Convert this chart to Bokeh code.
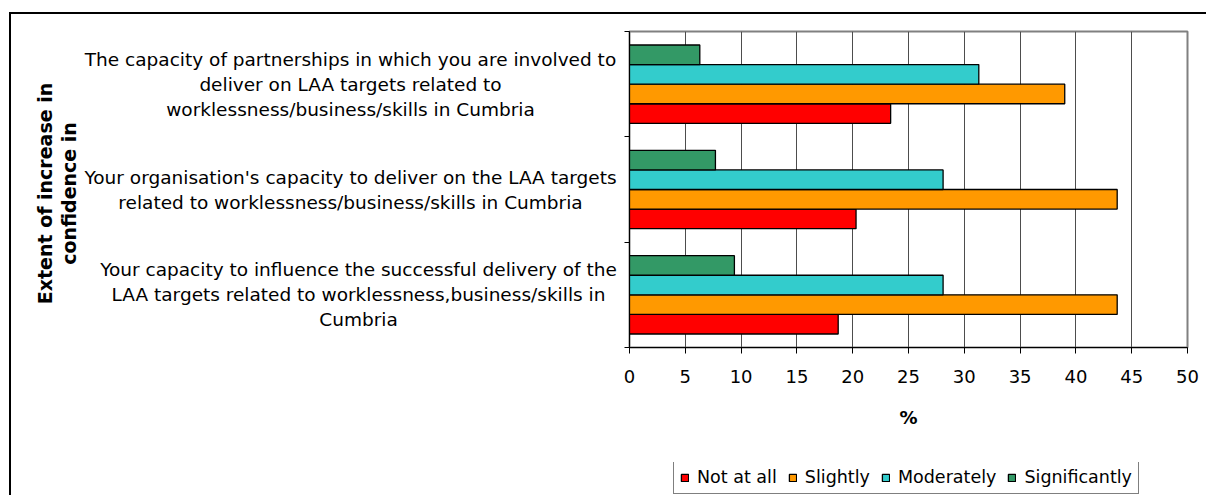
from math import pi
from bokeh.plotting import figure
from bokeh.layouts import row, column
from bokeh.models import Range1d, FixedTicker, Legend, LegendItem
from bokeh.core.properties import value
from bokeh.embed import file_html
from bokeh.resources import INLINE

# ---------------- data ----------------
categories = [
    "The capacity of partnerships in which you are involved to\ndeliver on LAA targets related to\nworklessness/business/skills in Cumbria",
    "Your organisation's capacity to deliver on the LAA targets\nrelated to worklessness/business/skills in Cumbria",
    "Your capacity to influence the successful delivery of the\nLAA targets related to worklessness,business/skills in\nCumbria",
]
series = ["Not at all", "Slightly", "Moderately", "Significantly"]
not_at_all = [23.4, 20.3, 18.7]
slightly = [39.0, 43.7, 43.7]
moderately = [31.3, 28.1, 28.1]
significantly = [6.3, 7.7, 9.4]
x_ticks = [0, 5, 10, 15, 20, 25, 30, 35, 40, 45, 50]
x_title = "%"
y_title = ["Extent of increase in", "confidence in"]

values = {"Not at all": not_at_all, "Slightly": slightly,
          "Moderately": moderately, "Significantly": significantly}
colors = {"Not at all": "#FF0000", "Slightly": "#FF9900",
          "Moderately": "#33CCCC", "Significantly": "#339966"}
offsets = {"Not at all": -0.279, "Slightly": -0.093,
           "Moderately": 0.093, "Significantly": 0.279}
BAR_H = 0.186
FONT = "DejaVu Sans"
W, H = 1206, 495
LEFT_W = 620
LEG_H = 33
TOP_H = H - LEG_H

n_cat = len(categories)
centers = [n_cat - i - 0.5 for i in range(n_cat)]
yr = Range1d(0, n_cat)

# ---------------- chart figure ----------------
p = figure(width=W - LEFT_W, height=TOP_H, output_backend="svg", toolbar_location=None,
           x_range=Range1d(0, 50), y_range=yr,
           min_border_left=9, min_border_right=19,
           min_border_top=31, min_border_bottom=TOP_H - 347)
p.background_fill_color = "white"
p.border_fill_alpha = 0
p.outline_line_color = "#808080"
p.outline_line_width = 2

p.xaxis.ticker = FixedTicker(ticks=x_ticks)
p.xaxis.minor_tick_line_color = None
p.xaxis.major_tick_in = 0
p.xaxis.major_tick_out = 6
p.xaxis.axis_line_color = "black"
p.xaxis.major_tick_line_color = "black"
p.xaxis.major_label_text_font = FONT
p.xaxis.major_label_text_font_size = "18px"
p.xaxis.major_label_text_color = "black"
p.xaxis.major_label_standoff = 16
p.xaxis.axis_label = x_title
p.xaxis.axis_label_text_font = FONT
p.xaxis.axis_label_text_font_size = "18px"
p.xaxis.axis_label_text_font_style = "bold"
p.xaxis.axis_label_text_color = "black"
p.xaxis.axis_label_standoff = 21

p.yaxis.ticker = FixedTicker(ticks=[], minor_ticks=list(range(n_cat + 1)))
p.yaxis.major_tick_in = 0
p.yaxis.major_tick_out = 0
p.yaxis.minor_tick_in = 0
p.yaxis.minor_tick_out = 5
p.yaxis.minor_tick_line_color = "black"
p.yaxis.axis_line_color = "black"

p.xgrid.grid_line_color = "#4d4d4d"
p.xgrid.grid_line_width = 1
p.ygrid.grid_line_color = None

for s in series:
    ys = [c + offsets[s] for c in centers]
    p.hbar(y=ys, left=0, right=values[s], height=BAR_H,
           fill_color=colors[s], line_color="black", line_width=1.3)

# ---------------- category label panel ----------------
left = figure(width=LEFT_W, height=TOP_H, output_backend="svg", toolbar_location=None,
              x_range=Range1d(0, LEFT_W), y_range=yr,
              min_border_left=0, min_border_right=0,
              min_border_top=31, min_border_bottom=TOP_H - 347,
              x_axis_location=None, y_axis_location=None)
left.outline_line_color = None
left.background_fill_alpha = 0
left.border_fill_alpha = 0
left.grid.grid_line_color = None

label_cx = [350, 350, 358]
lx, ly, lt, lo = [], [], [], []
for i, cat in enumerate(categories):
    lines = cat.split("\n")
    n = len(lines)
    for k, line in enumerate(lines):
        lx.append(label_cx[i])
        ly.append(centers[i])
        lt.append(line)
        lo.append((k - (n - 1) / 2) * 25)
left.text(x=lx, y=ly, text=lt, y_offset=lo, text_align="center", text_baseline="middle",
          text_font=value(FONT), text_font_size=value("18.5px"), text_color="black")

left.text(x=[44, 68], y=[n_cat / 2] * 2, text=y_title, angle=pi / 2, y_offset=4,
          text_align="center", text_baseline="middle",
          text_font=value(FONT), text_font_size=value("19px"),
          text_font_style="bold", text_color="black")

# ---------------- legend strip ----------------
lg = figure(width=W, height=LEG_H, output_backend="svg", toolbar_location=None,
            x_range=Range1d(0, W), y_range=Range1d(0, LEG_H),
            min_border_left=0, min_border_right=0, min_border_top=0, min_border_bottom=0,
            x_axis_location=None, y_axis_location=None)
lg.outline_line_color = None
lg.background_fill_alpha = 0
lg.border_fill_alpha = 0
lg.grid.grid_line_color = None
items = []
for s in series:
    # legend proxy: a zero-size bar kept outside the strip's visible range
    r = lg.hbar(y=[-LEG_H], left=[0], right=[0], height=1,
                fill_color=colors[s], line_color="black", line_width=1.3)
    items.append(LegendItem(label=s, renderers=[r]))
legend = Legend(items=items, orientation="horizontal", location=(673, 1),
                label_text_font=FONT, label_text_font_size="17.5px",
                label_text_color="black",
                glyph_width=9, glyph_height=9, label_height=20,
                label_standoff=8, spacing=11, padding=6, margin=0,
                border_line_color="black", border_line_width=1,
                background_fill_color="white", background_fill_alpha=1)
lg.add_layout(legend)

lay = column(row(left, p), lg)
lay.styles = {
    "background": "linear-gradient(#000, #000) 9px 12px / 2px 100% no-repeat, "
                  "linear-gradient(#000, #000) 9px 12px / 100% 2px no-repeat, #fff",
}

open("out.html", "w").write(file_html(lay, INLINE))
